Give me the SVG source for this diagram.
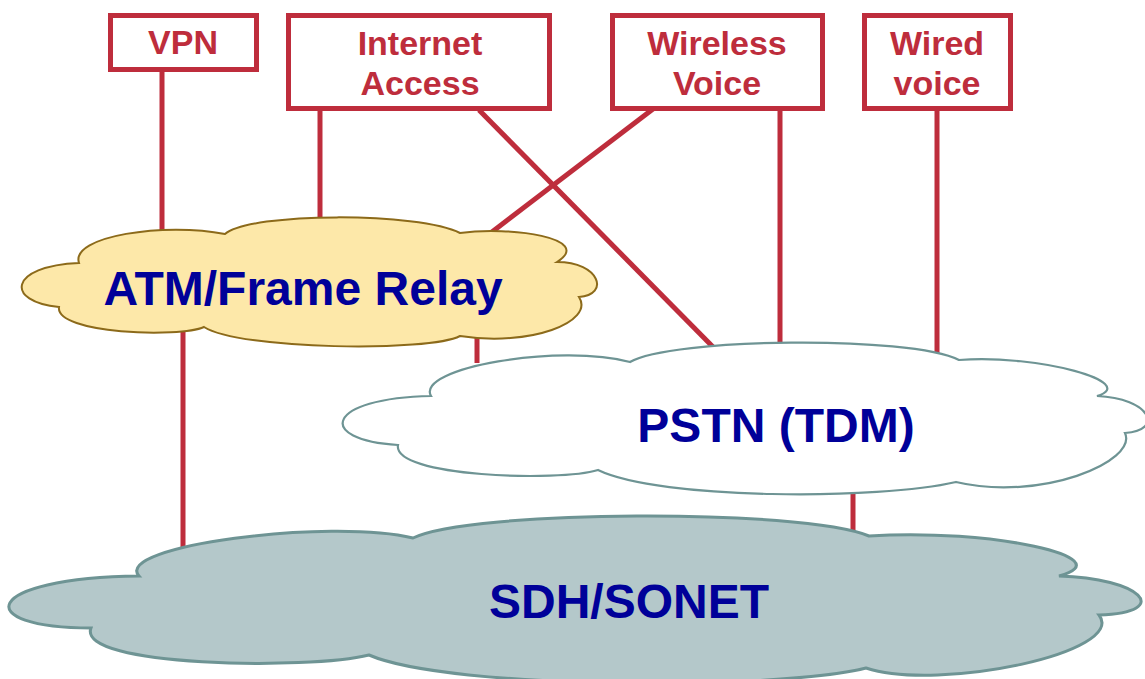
<svg xmlns="http://www.w3.org/2000/svg" width="1145" height="679" viewBox="0 0 1145 679">
  <style>
    .box { fill: #ffffff; stroke: #BE2D3C; stroke-width: 5; }
    .boxtext { font-family: "Liberation Sans", Arial, sans-serif; font-weight: bold; font-size: 34px; fill: #BE2D3C; text-anchor: middle; }
    .link { stroke: #BE2D3C; stroke-width: 5; fill: none; }
    .cloudtext { font-family: "Liberation Sans", Arial, sans-serif; font-weight: bold; font-size: 48px; fill: #000099; text-anchor: middle; }
    .atm { fill: #FDE8A9; stroke: #8C6A1A; stroke-width: 2; }
    .pstn { fill: #ffffff; stroke: #6E9494; stroke-width: 2.2; }
    .sdh { fill: #B4C8CA; stroke: #6E9494; stroke-width: 3; }
  </style>
  <rect width="1145" height="679" fill="#ffffff"/>

  <!-- connectors -->
  <g id="connectors">
    <line class="link" x1="162" y1="72" x2="162" y2="240"/>
    <line class="link" x1="320" y1="110" x2="320" y2="230"/>
    <line class="link" x1="479" y1="110" x2="716" y2="350"/>
    <line class="link" x1="653" y1="109" x2="488" y2="235"/>
    <line class="link" x1="780" y1="110" x2="780" y2="348"/>
    <line class="link" x1="937" y1="110" x2="937" y2="358"/>
    <line class="link" x1="183" y1="325" x2="183" y2="548"/>
    <line class="link" x1="477" y1="330" x2="477" y2="363"/>
    <line class="link" x1="853" y1="488" x2="853" y2="537"/>
  </g>

  <!-- ATM / Frame Relay cloud -->
  <g id="atm">
    <path class="atm" d="M79,263 C70,236 165,222 225,234 C250,212 420,212 460,233 C510,226 595,238 557,262 C600,262 610,295 579,297 C595,322 530,347 460,336 C430,352 240,350 204,327 C180,338 55,334 59,307 C5,302 8,266 79,263 Z"/>
    <text class="cloudtext" x="303" y="305">ATM/Frame Relay</text>
  </g>

  <!-- PSTN cloud -->
  <g id="pstn">
    <path class="pstn" d="M431,396 C415,368 560,343 630,362 C670,338 910,335 959,360 C1040,354 1140,383 1097,396 C1150,398 1165,430 1125,433 C1138,462 1040,502 956,482 C880,500 660,500 598,470 C560,482 392,477 398,445 C315,440 325,398 431,396 Z"/>
    <text class="cloudtext" x="776" y="442">PSTN (TDM)</text>
  </g>

  <!-- SDH / SONET cloud -->
  <g id="sdh">
    <path class="sdh" d="M139,576 C112,546 330,518 413,538 C470,510 800,508 869,536 C990,528 1125,558 1059,576 C1140,578 1175,612 1099,615 C1128,652 940,692 866,668 C780,690 450,690 369,655 C310,670 76,667 91,628 C-30,628 -20,578 139,576 Z"/>
    <text class="cloudtext" x="629" y="618">SDH/SONET</text>
  </g>

  <!-- service boxes -->
  <g id="vpn">
    <rect class="box" x="110.5" y="15.5" width="146" height="54"/>
    <text class="boxtext" x="183" y="54">VPN</text>
  </g>
  <g id="internet-access">
    <rect class="box" x="288.5" y="15.5" width="261" height="93"/>
    <text class="boxtext" x="420" y="55">Internet</text>
    <text class="boxtext" x="420" y="95">Access</text>
  </g>
  <g id="wireless-voice">
    <rect class="box" x="612.5" y="15.5" width="210" height="93"/>
    <text class="boxtext" x="717" y="55">Wireless</text>
    <text class="boxtext" x="717" y="95">Voice</text>
  </g>
  <g id="wired-voice">
    <rect class="box" x="864.5" y="15.5" width="146" height="93"/>
    <text class="boxtext" x="937" y="55">Wired</text>
    <text class="boxtext" x="937" y="95">voice</text>
  </g>
</svg>
